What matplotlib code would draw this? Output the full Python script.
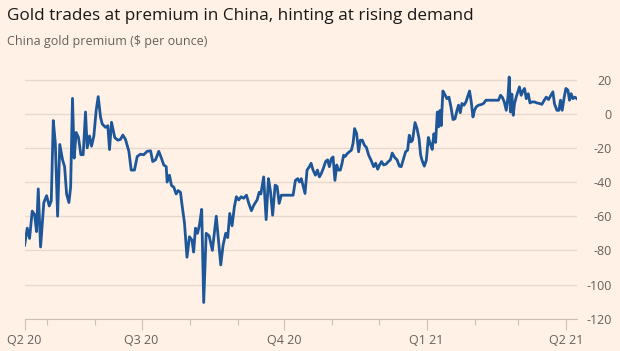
import matplotlib.pyplot as plt
import numpy as np
import pandas as pd

# days since 2020-04-01, and premium in $/oz
days = [15.5, 17.2, 18.7, 20.4, 21.9, 23.2, 24.3, 25.8, 27.9, 29.7, 31.4, 32.7, 34.0, 35.3, 36.8,
        38.2, 40.0, 41.3, 42.6, 44.1, 45.2, 46.4, 47.5, 48.8, 50.3, 51.8, 53.3, 54.8, 55.9, 57.4,
        58.7, 60.2, 61.7, 63.0, 64.5, 65.6, 67.7, 69.2, 70.3, 71.6, 73.7, 75.7, 77.4, 78.9, 80.6,
        82.8, 84.3, 86.4, 88.2, 90.3, 92.4, 94.6, 96.8, 98.2, 100.0, 102.1, 103.8, 105.3, 106.9,
        107.5, 109.0, 110.3, 111.8, 113.3, 114.6, 116.1, 117.2, 118.7, 120.3, 121.9, 123.5, 124.6,
        125.8, 127.1, 128.4, 129.8, 131.1, 132.7, 134.6, 136.7, 139.2, 140.6, 142.1, 143.6, 145.3,
        146.6, 147.9, 149.4, 150.9, 152.2, 153.7, 155.3, 156.9, 158.7, 160.2, 161.9, 163.4, 165.6,
        166.9, 168.0, 169.8, 171.4, 172.9, 174.2, 175.6, 177.2, 178.5, 179.8, 181.2, 188.8, 190.3,
        191.8, 192.9, 194.1, 195.2, 196.5, 197.8, 199.3, 200.4, 201.7, 203.2, 204.5, 205.8, 207.0,
        208.3, 209.8, 211.1, 212.2, 213.5, 214.6, 215.8, 217.0, 218.0, 219.3, 220.4, 221.4, 222.5,
        223.6, 225.1, 226.4, 227.5, 228.5, 229.8, 231.1, 232.2, 233.5, 234.8, 236.1, 237.6, 239.1,
        240.8, 242.1, 243.4, 244.6, 245.9, 247.2, 248.8, 250.3, 251.6, 252.8, 254.3, 255.9, 257.4,
        258.6, 260.1, 261.4, 262.7, 263.8, 264.9, 265.9, 267.5, 268.8, 270.1, 271.1, 272.0, 273.5,
        274.8, 276.1, 277.4, 278.6, 279.7, 280.8, 281.9, 282.7, 283.6, 284.4, 285.5, 287.0, 288.1,
        289.4, 290.7, 292.0, 293.3, 294.6, 295.6, 296.7, 297.8, 299.1, 300.4, 301.4, 302.7, 303.8,
        304.9, 305.9, 307.0, 308.5, 310.1, 311.7, 313.3, 321.4, 322.7, 323.8, 325.1, 326.4, 327.5,
        328.3, 329.1, 330.0, 330.9, 331.7, 332.8, 333.9, 334.9, 336.0, 337.1, 338.2, 339.3, 340.6,
        341.7, 342.9, 344.6, 346.2, 347.8, 349.4, 350.9, 352.2, 353.7, 355.2, 356.5, 357.5, 359.1,
        360.4, 361.4, 362.5, 363.8, 364.9, 366.2, 367.2, 368.3, 369.4, 370.7, 372.0]

premium = [-77, -67, -73, -57, -59, -69, -44, -78, -52, -48, -54, -51, -4, -17, -60,
           -18, -27, -31, -47, -52, -43, 9, -26, -11, -14, -24, -24, 1, -20, -13,
           -19, -13, 2, 10, -2, -6, -8, -7, -21, -5, -14, -15.5, -15, -12.5, -15,
           -22, -33, -33, -25, -23.7, -24, -22, -21.7, -28, -27, -22, -26, -30, -31,
           -40, -36, -42, -43, -47, -45, -46, -54, -64, -84, -72, -74, -81,
           -67, -70, -65, -56, -110.5, -70, -71.5, -80, -60, -74, -88.5, -77, -70,
           -72.5, -58.4, -65.6, -54.5, -48.6, -50.5, -48.6, -49.5, -47.7, -52.5, -56.8, -53.6, -50.4,
           -46, -47, -37, -62, -38, -45.5, -59.4, -41.8, -42.6, -52.5, -47.7, -47.7, -39,
           -38, -40, -38, -42, -46.7, -33, -31, -29, -33, -36, -33, -37, -35,
           -32, -28, -27, -31, -26.3, -25.3, -39, -30, -33, -33, -29, -24.3, -25,
           -23.5, -22.3, -21.4, -17.4, -8.7, -11.6, -22.3, -15.5, -15.5, -18.4, -19.7, -24.3, -27.2,
           -31, -29, -32.5, -30, -28, -30, -29.5, -28, -27, -23, -25.5, -27, -30.7,
           -31, -26.3, -22.3, -21.4, -12.6, -16.5, -15.5, -5.2, -8.7, -14.5, -24, -27.2, -30.7,
           -27.2, -13.9, -17.8, -20.9, -11.7, -16.8, 1, -7.7, 1.9, -7, 13.3, 10.8, 8.8,
           9.7, 4, -3.4, -3, 2, 5, 0.6, 6, 5, 6.9, 9.8, 13.3, 6.9,
           -1.9, 2, 4, 5, 5.3, 6, 7.9, 7.9, 10.8, 9.7, 6.9, 2, 9.7,
           21.5, 1, 11.5, -0.9, 5.8, 9.7, 12.8, 15.7, 10.8, 13.3, 14.8, 8.8, 11.7,
           6.3, 6.9, 6.9, 6.3, 6, 5.5, 7.9, 9.7, 8.3, 10.8, 12.8, 5.8, 2,
           2, 7.9, 2, 9.7, 14.8, 13.8, 7.9, 11.7, 8.8, 9.7, 8.8]

quarter_starts = ['2020-07-01', '2020-10-01', '2021-01-01', '2021-04-01']
quarter_labels = ['Q3 20', 'Q4 20', 'Q1 21', 'Q2 21']
y_ticks = [20, 0, -20, -40, -60, -80, -100, -120]

title = 'Gold trades at premium in China, hinting at rising demand'
subtitle = 'China gold premium ($ per ounce)'

bg = '#fff1e5'
grid_col = '#e6d9ce'
text_grey = '#66605c'
line_col = '#1d5699'


def main():
    plt.rcParams['font.family'] = ['Open Sans', 'DejaVu Sans']

    dates = pd.Timestamp('2020-04-01') + pd.to_timedelta(days, unit='D')
    start = dates[0]
    end = pd.Timestamp('2020-04-01') + pd.Timedelta(days=372.2)

    fig = plt.figure(figsize=(6.2, 3.51), dpi=100, facecolor=bg)
    ax = fig.add_axes([0.0397, 0.092, 0.8913, 0.7057])
    ax.set_facecolor(bg)

    ax.plot(dates, premium, color=line_col, linewidth=2.0, solid_joinstyle='round', zorder=3)

    ax.set_xlim(start, end)
    ax.set_ylim(-120, 25)

    # y axis on the right, right-aligned labels
    ax.yaxis.tick_right()
    ax.set_yticks(y_ticks)
    ax.set_yticklabels([str(t) for t in y_ticks])
    ax.tick_params(axis='y', length=0, pad=25, labelsize=9, labelcolor=text_grey)
    for lab in ax.get_yticklabels():
        lab.set_horizontalalignment('right')
    ax.grid(axis='y', color=grid_col, linewidth=1.0, zorder=0)

    # quarters as major ticks, months as minor ticks
    major = [start] + [pd.Timestamp(q) for q in quarter_starts]
    ax.set_xticks(major)
    ax.set_xticklabels(['Q2 20'] + quarter_labels)
    minor = [m for m in pd.date_range('2020-05-01', '2021-04-01', freq='MS') if m not in major]
    ax.set_xticks(minor, minor=True)
    ax.tick_params(axis='x', which='major', length=8, width=0.8, color='#ccc1b7',
                   labelsize=9, labelcolor=text_grey, pad=3)
    ax.tick_params(axis='x', which='minor', length=4, width=0.8, color='#ccc1b7')

    for side in ['top', 'right', 'left']:
        ax.spines[side].set_visible(False)
    ax.spines['bottom'].set_color('#ccc1b7')
    ax.spines['bottom'].set_linewidth(0.8)

    fig.text(0.011, 0.955, title, fontsize=12.3, color='#1a1817', va='center', ha='left')
    fig.text(0.011, 0.882, subtitle, fontsize=9, color=text_grey, va='center', ha='left')

    fig.savefig('out.png', dpi=100, facecolor=bg)


if __name__ == '__main__':
    main()
